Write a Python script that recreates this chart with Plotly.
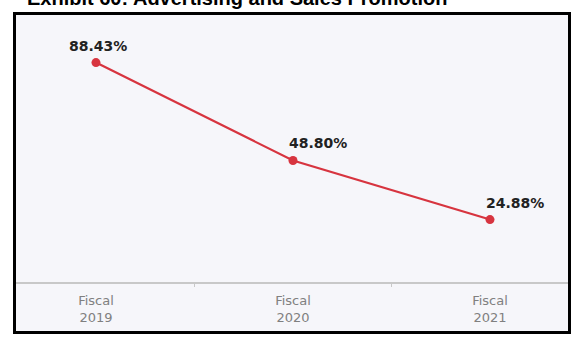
import plotly.graph_objects as go

categories = ["Fiscal<br>2019", "Fiscal<br>2020", "Fiscal<br>2021"]
values = [88.43, 48.80, 24.88]
value_labels = ["88.43%", "48.80%", "24.88%"]
label_xshift = [2, 25, 25]

title_text = "Exhibit 60: Advertising and Sales Promotion"

W, H = 573, 338
ml, mr, mt, mb = 16, 5, 15, 56
pw, ph = W - ml - mr, H - mt - mb

def px_x(p):
    return (p - ml) / pw

def px_y(p):
    return (H - mb - p) / ph

red = "#d7343f"
fill = "#f6f6fa"

fig = go.Figure()
fig.add_trace(go.Scatter(
    x=categories, y=values, mode="lines+markers",
    line=dict(color=red, width=2.2),
    marker=dict(color=red, size=9),
    hoverinfo="skip", showlegend=False,
))

annotations = []
for c, v, t, dx in zip(categories, values, value_labels, label_xshift):
    annotations.append(dict(
        x=c, y=v, text="<b>" + t + "</b>", showarrow=False,
        xanchor="center", yanchor="middle", xshift=dx, yshift=17,
        font=dict(family="DejaVu Sans", size=14, color="#222222"),
    ))

annotations.append(dict(
    x=px_x(25), y=px_y(6), xref="paper", yref="paper",
    text="<b>" + title_text + "</b>", showarrow=False,
    xanchor="left", yanchor="bottom", yshift=-5,
    font=dict(family="Liberation Sans", size=20, color="#000000"),
))

fig.update_layout(
    width=W, height=H,
    margin=dict(l=ml, r=mr, t=mt, b=mb, pad=0),
    paper_bgcolor="white",
    plot_bgcolor=fill,
    annotations=annotations,
    shapes=[dict(
        type="rect", xref="paper", yref="paper", layer="below",
        x0=px_x(14.5), x1=px_x(569.5), y0=px_y(332.5), y1=px_y(13.5),
        line=dict(color="#000000", width=3), fillcolor=fill,
    )],
    xaxis=dict(
        type="category", range=[-0.406, 2.396],
        tickson="boundaries", ticks="outside", ticklen=3, tickcolor="#c8c8c8",
        ticklabelstandoff=6,
        showline=True, linecolor="#c8c8c8", linewidth=1.5,
        showgrid=False, zeroline=False,
        tickfont=dict(family="DejaVu Sans", size=13, color="#808080"),
    ),
    yaxis=dict(
        range=[-0.4, 107.7], visible=False, showgrid=False, zeroline=False,
    ),
)

fig.write_html("out.html")
